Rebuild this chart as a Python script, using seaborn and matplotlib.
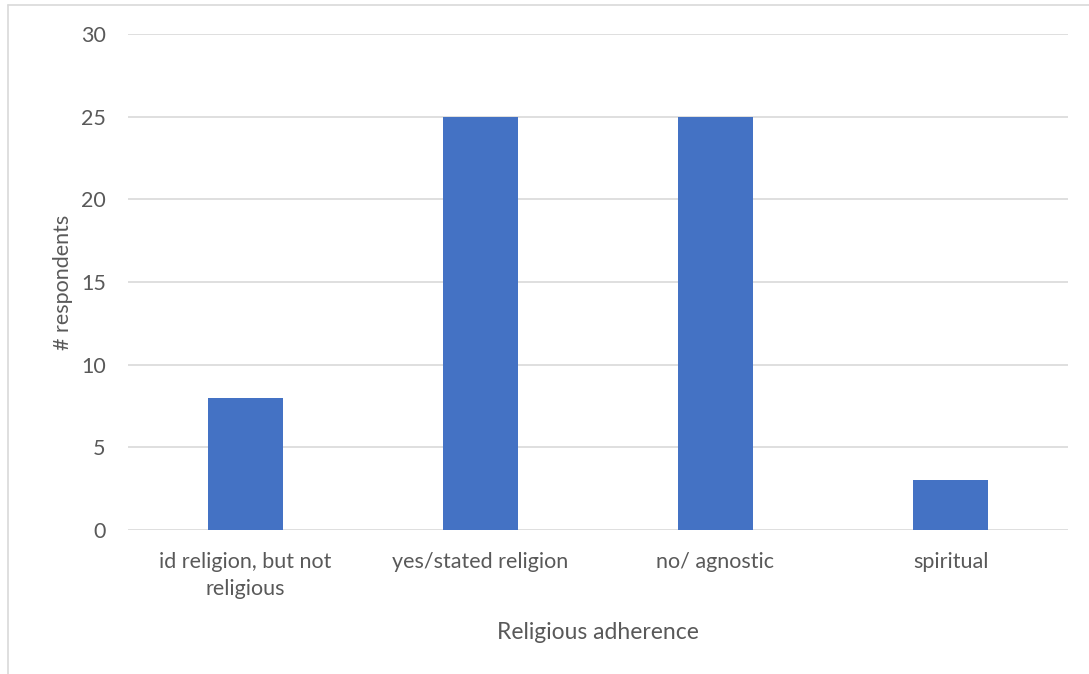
import matplotlib
matplotlib.use("Agg")
import matplotlib.pyplot as plt
import seaborn as sns
import pandas as pd
from matplotlib.lines import Line2D

categories = ["id religion, but not\nreligious", "yes/stated religion", "no/ agnostic", "spiritual"]
respondents = [8, 25, 25, 3]
yticks = [0, 5, 10, 15, 20, 25, 30]

df = pd.DataFrame({"cat": categories, "n": respondents})

sns.set_theme(style="white")
plt.rcParams["font.family"] = ["Lato", "DejaVu Sans"]
txt = "#595959"

fig = plt.figure(figsize=(10.89, 6.74), dpi=100)
ax = fig.add_axes([128/1089, 1-530/674, 940/1089, 496/674])

sns.barplot(data=df, x="cat", y="n", color="#4472C4", width=0.315, saturation=1,
            linewidth=0, ax=ax, zorder=3)

ax.set_ylim(0, 30)
ax.set_yticks(yticks)
ax.set_xlim(-0.5, 3.5)
ax.grid(axis="y", color="#d9d9d9", linewidth=1.2, zorder=0)
for s in ax.spines.values():
    s.set_visible(False)
ax.tick_params(axis="both", length=0, labelsize=15.5, colors=txt)
ax.tick_params(axis="x", pad=16)
ax.tick_params(axis="y", pad=16)
ax.set_ylabel("# respondents", fontsize=15.5, color=txt, labelpad=6)
ax.set_xlabel("Religious adherence", fontsize=16.5, color=txt, labelpad=16)
for lbl in ax.get_xticklabels():
    lbl.set_linespacing(1.45)

# chart frame (left and top edges)
fig.add_artist(Line2D([8/1089, 8/1089], [0, 1-5/674], color="#d9d9d9", linewidth=1.2, transform=fig.transFigure))
fig.add_artist(Line2D([8/1089, 1], [1-5/674, 1-5/674], color="#d9d9d9", linewidth=1.2, transform=fig.transFigure))

fig.savefig("out.png", dpi=100)
